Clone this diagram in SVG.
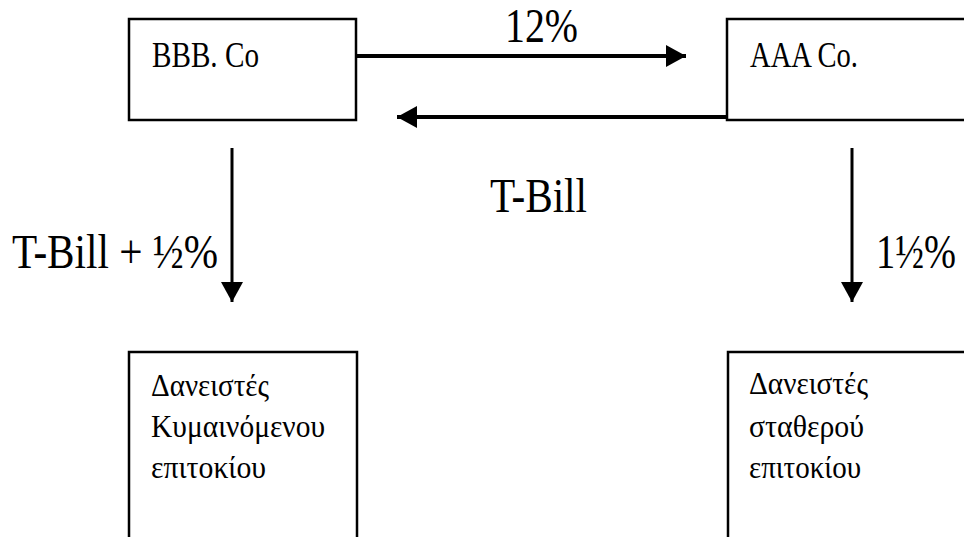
<svg xmlns="http://www.w3.org/2000/svg" width="964" height="537" viewBox="0 0 964 537">
<style>
.box{fill:#fff;stroke:#000;stroke-width:2.5}
.t{font-family:'Liberation Serif','DejaVu Serif','Times New Roman',serif;fill:#000}
.lbl{font-size:36px}
.gr{font-size:32px}
.big{font-size:48px}
.con{stroke:#000;fill:none}
</style>
<defs>
<marker id="ah" markerUnits="userSpaceOnUse" markerWidth="22" markerHeight="24" refX="20" refY="11" orient="auto">
<polygon points="0,0 20,11 0,22" fill="#000"/>
</marker>
</defs>
<rect width="964" height="537" fill="#fff"/>
<g id="bbb">
<rect class="box" x="129" y="19" width="227" height="101"/>
<text class="t lbl" x="152" y="67" textLength="107" lengthAdjust="spacingAndGlyphs">BBB. Co</text>
</g>
<g id="aaa">
<rect class="box" x="727" y="19" width="250" height="101"/>
<text class="t lbl" x="750" y="67" textLength="108" lengthAdjust="spacingAndGlyphs">AAA Co.</text>
</g>
<g id="floating">
<rect class="box" x="129" y="352" width="228" height="200"/>
<text class="t gr" x="151" y="396" textLength="118" lengthAdjust="spacingAndGlyphs">Δανειστές</text>
<text class="t gr" x="151" y="437" textLength="174" lengthAdjust="spacingAndGlyphs">Κυμαινόμενου</text>
<text class="t gr" x="151" y="478" textLength="115" lengthAdjust="spacingAndGlyphs">επιτοκίου</text>
</g>
<g id="fixed">
<rect class="box" x="728" y="352" width="250" height="200"/>
<text class="t gr" x="749" y="394" textLength="119" lengthAdjust="spacingAndGlyphs">Δανειστές</text>
<text class="t gr" x="749" y="437" textLength="115" lengthAdjust="spacingAndGlyphs">σταθερού</text>
<text class="t gr" x="749" y="478" textLength="112" lengthAdjust="spacingAndGlyphs">επιτοκίου</text>
</g>
<g id="connectors">
<line class="con" x1="356" y1="56" x2="686" y2="56" stroke-width="4" marker-end="url(#ah)"/>
<line class="con" x1="727" y1="117" x2="397" y2="117" stroke-width="4" marker-end="url(#ah)"/>
<line class="con" x1="232" y1="148" x2="232" y2="302" stroke-width="3" marker-end="url(#ah)"/>
<line class="con" x1="852" y1="148" x2="852" y2="302" stroke-width="3" marker-end="url(#ah)"/>
<text class="t big" x="505" y="42" textLength="73" lengthAdjust="spacingAndGlyphs">12%</text>
<text class="t big" x="490" y="212" textLength="97" lengthAdjust="spacingAndGlyphs">T-Bill</text>
<text class="t big" x="12" y="268" textLength="206" lengthAdjust="spacingAndGlyphs">T-Bill + ½%</text>
<text class="t big" transform="translate(876,268) scale(0.8,1)" x="0" y="0">1½%</text>
</g>
</svg>
